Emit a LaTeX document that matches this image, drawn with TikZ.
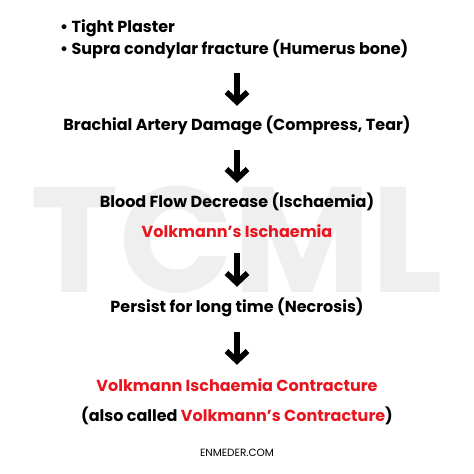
\documentclass[tikz,border=0pt]{standalone}
\usepackage{fontspec}
\setmainfont{Poppins}
\usepackage{xcolor}
\usetikzlibrary{arrows.meta}

\definecolor{vred}{HTML}{E8141E}
\definecolor{wmark}{HTML}{EFEFEF}

\tikzset{
  step text/.style={font=\bfseries\fontsize{16}{22}\selectfont, inner sep=0pt,
    text height=12pt, text depth=4pt},
  flow/.style={line width=5.5pt, -{Straight Barb[length=10pt, width=21pt, line width=5.5pt]}}
}

\begin{document}
\begin{tikzpicture}[x=1pt, y=-1pt]
  \useasboundingbox (0,0) rectangle (474,474);
  \fill[white] (0,0) rectangle (474,474);

  % Watermark
  \node[font=\bfseries\fontsize{150}{150}\selectfont, text=wmark, inner sep=0pt] (wm) at (237, 240) {TCML};

  % Causes
  \node[step text, anchor=west] (cause1) at (60, 28) {• Tight Plaster};
  \node[step text, anchor=west] (cause2) at (60, 50) {• Supra condylar fracture (Humerus bone)};

  % Steps
  \node[step text] (artery) at (237, 126) {Brachial Artery Damage (Compress, Tear)};
  \node[step text] (flowdec) at (237, 203) {Blood Flow Decrease (Ischaemia)};
  \node[step text, text=vred] (ischaemia) at (237, 233) {Volkmann’s Ischaemia};
  \node[step text] (necrosis) at (237, 308) {Persist for long time (Necrosis)};
  \node[step text, text=vred] (contract) at (237, 387) {Volkmann Ischaemia Contracture};
  \node[step text] (alsocalled) at (237, 417) {(also called \textcolor{vred}{Volkmann’s Contracture})};

  % Footer
  \node[font=\fontsize{10.5}{10.5}\selectfont, inner sep=0pt] (site) at (237, 453) {ENMEDER.COM};

  % Arrows
  \draw[flow, shorten <=15pt, shorten >=12pt] (artery |- cause2.south) -- (artery.north);
  \draw[flow, shorten <=16pt, shorten >=12pt] (artery.south) -- (flowdec.north);
  \draw[flow, shorten <=12pt, shorten >=13pt] (ischaemia.south) -- (necrosis.north);
  \draw[flow, shorten <=16pt, shorten >=14pt] (necrosis.south) -- (contract.north);
\end{tikzpicture}
\end{document}
